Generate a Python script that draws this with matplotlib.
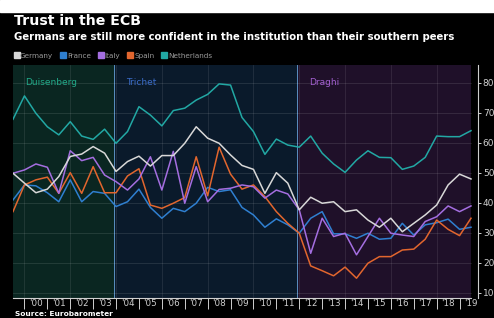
import matplotlib
matplotlib.use("Agg")
import matplotlib.pyplot as plt
import numpy as np
from matplotlib.lines import Line2D

# Eurobarometer trust in the ECB (%), two surveys a year, late 1999 to mid 2019
years = 1999.5 + 0.5 * np.arange(41)
germany = [49.9, 46.6, 43.4, 44.6, 48.8, 55.5, 56.3, 58.8, 56.6, 50.5,
           53.8, 55.6, 52.3, 55.8, 55.8, 59.9, 65.4, 61.6, 59.9, 56.0,
           52.5, 51.2, 43.2, 50.1, 46.6, 37.7, 41.9, 39.9, 40.4, 37.1,
           37.7, 34.3, 31.9, 34.9, 30.4, 33.2, 36.0, 39.3, 46.0, 49.6, 48.0]
france = [41.0, 46.0, 45.7, 43.4, 40.4, 47.7, 40.4, 43.8, 43.2, 38.8,
          40.4, 44.6, 38.5, 34.9, 38.2, 37.1, 39.9, 45.2, 43.8, 44.4,
          38.5, 36.0, 31.9, 34.7, 32.7, 29.9, 34.9, 37.1, 29.7, 29.7,
          28.2, 29.9, 27.9, 28.2, 33.2, 29.3, 32.7, 33.4, 34.6, 31.2, 31.9]
italy = [49.9, 51.0, 53.0, 51.9, 43.2, 57.4, 54.1, 55.2, 49.3, 47.1,
         44.3, 48.0, 55.4, 44.3, 57.2, 39.9, 52.1, 40.4, 44.5, 44.9,
         46.0, 45.4, 41.6, 44.3, 43.0, 37.7, 23.2, 34.9, 28.8, 29.9,
         22.7, 28.8, 34.9, 29.9, 29.3, 28.8, 33.8, 35.4, 39.0, 37.1, 39.0]
spain = [37.1, 46.0, 47.7, 48.6, 43.2, 50.1, 43.2, 52.1, 43.4, 43.4,
         49.0, 51.4, 39.3, 38.2, 39.9, 41.8, 55.4, 42.4, 58.6, 49.6,
         44.6, 46.0, 42.1, 37.1, 33.2, 29.9, 19.0, 17.4, 15.7, 18.6,
         14.9, 19.9, 22.1, 22.1, 24.3, 24.6, 27.9, 34.3, 31.2, 29.1, 34.9]
netherlands = [67.9, 75.7, 69.9, 65.4, 62.7, 67.1, 62.3, 61.2, 64.6, 59.9,
               63.8, 72.1, 69.3, 65.7, 70.8, 71.6, 74.3, 76.2, 79.7, 79.3,
               68.5, 63.8, 56.2, 61.3, 59.3, 58.6, 62.3, 56.6, 53.0, 50.2,
               54.3, 57.4, 55.2, 55.1, 51.2, 52.3, 55.2, 62.3, 62.1, 62.1, 64.1]

names = ["Germany", "France", "Italy", "Spain", "Netherlands"]
colors = ["#d8d8d8", "#2f7fd0", "#a46ee0", "#e2662e", "#22a8a4"]

# ECB presidents
eras = ["Duisenberg", "Trichet", "Draghi"]
era_start = [years[0], 2003.9, 2011.9]
era_end = [2003.9, 2011.9, years[-1]]
era_bg = ["#0a2621", "#0a1a2b", "#1f1029"]
era_text = ["#22ab8a", "#3b6cc8", "#a25fcf"]

year_labels = ["'%02d" % (y % 100) for y in range(2000, 2020)]

fig = plt.figure(figsize=(4.94, 3.18), dpi=100, facecolor="black")
# white strip at the top of the screenshot
fig.patches.append(plt.Rectangle((0, 1 - 12 / 318), 1, 12 / 318, transform=fig.transFigure,
                                 color="white", zorder=-1))

ax = fig.add_axes([13 / 494, 1 - 298 / 318, (478 - 13) / 494, (298 - 65) / 318])
ax.set_facecolor("black")
ax.set_xlim(years[0], years[-1] + 7 / 22.9)
ax.set_ylim(8.3, 86)

for i in range(3):
    ax.axvspan(era_start[i], era_end[i], color=era_bg[i], zorder=0, lw=0)
    ax.text(era_start[i] + 0.55, 80, eras[i], color=era_text[i], fontsize=6.5,
            va="center", ha="left", zorder=5)
for x in era_start[1:]:
    ax.axvline(x, color="#5a8fc0", lw=0.7, zorder=1)

# grid
for v in range(10, 90, 10):
    ax.plot([years[0], years[-1]], [v, v], color="#ffffff", alpha=0.12, lw=0.6, zorder=1)
for yr in range(2000, 2020, 2):
    ax.axvline(yr, color="#ffffff", alpha=0.1, lw=0.6, zorder=1)

series = [germany, france, italy, spain, netherlands]
order = [4, 1, 3, 2, 0]
for k in order:
    ax.plot(years, series[k], color=colors[k], lw=1.1, zorder=3)

# axes styling
for s in ["top", "left"]:
    ax.spines[s].set_visible(False)
ax.spines["bottom"].set_bounds(years[0], years[-1])
ax.spines["bottom"].set_color("#cfcfcf")
ax.spines["bottom"].set_linewidth(0.8)
ax.spines["right"].set_color("#cfcfcf")
ax.spines["right"].set_linewidth(0.8)

ax.yaxis.tick_right()
ax.set_yticks(range(10, 90, 10))
ax.tick_params(axis="y", colors="#d0d0d0", labelsize=6.5, length=2.5, width=0.7, pad=1)

ax.set_xticks(range(2000, 2020))
ax.set_xticklabels([])
ax.set_xticks(np.arange(2000.5, 2020, 1), minor=True)
ax.set_xticklabels(year_labels, minor=True)
ax.tick_params(axis="x", which="major", colors="#cfcfcf", length=8, width=0.7)
ax.tick_params(axis="x", which="minor", colors="#d0d0d0", length=0, labelsize=6.3, pad=1)

# title block
fig.text(14 / 494, 1 - 21 / 318, "Trust in the ECB", color="white", fontsize=10.2,
         fontweight="bold", va="center", ha="left")
fig.text(14 / 494, 1 - 37 / 318,
         "Germans are still more confident in the institution than their southern peers",
         color="white", fontsize=7.25, fontweight="bold", va="center", ha="left")

handles = [Line2D([], [], marker="s", ls="none", color=c, markersize=3.8) for c in colors]
fig.legend(handles, names, loc="center left", bbox_to_anchor=(10 / 494, 1 - 56 / 318),
           ncol=5, frameon=False, fontsize=5.2, labelcolor="#9a9a9a",
           handletextpad=0.1, columnspacing=1.0, handlelength=0.8, borderpad=0)

fig.text(15 / 494, 0.5 / 318, "Source: Eurobarometer", color="white", fontsize=5.3,
         fontweight="bold", va="bottom", ha="left")

fig.savefig("out.png", dpi=100, facecolor=fig.get_facecolor())
